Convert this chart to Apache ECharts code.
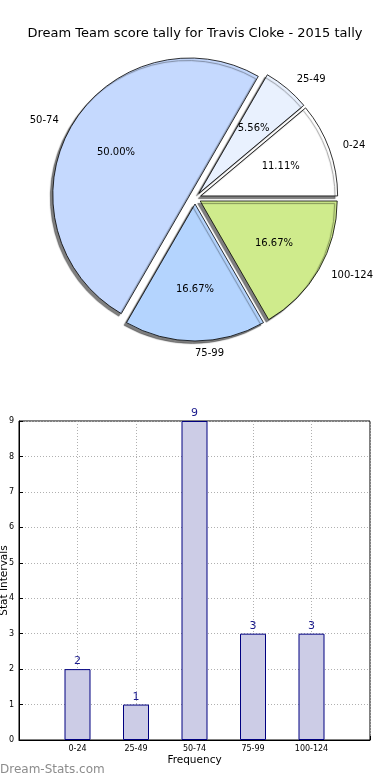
<!DOCTYPE html>
<html><head><meta charset="utf-8">
<script src="https://cdn.jsdelivr.net/npm/echarts@6/dist/echarts.min.js"></script>
<style>html,body{margin:0;padding:0;background:#fff}#c{width:390px;height:780px}</style>
</head><body><div id="c"></div>
<script>
const chartTitle = 'Dream Team score tally for Travis Cloke - 2015 tally';
const categories = ['0-24', '25-49', '50-74', '75-99', '100-124'];
const counts = [2, 1, 9, 3, 3];
const sliceColors = ['#ffffff', '#e9f1fe', '#c5d9fe', '#b4d4fe', '#cfeb8c'];
const xAxisName = 'Frequency';
const yAxisName = 'Stat Intervals';
const watermark = 'Dream-Stats.com';

const FONT = 'DejaVu Sans';
const PIE_CENTER = [195, 198];
const PIE_R = 137;
const OFFSET = 6;
const total = counts.reduce((a, b) => a + b, 0);

const chart = echarts.init(document.getElementById('c'), null, {renderer: 'canvas'});

const pieData = categories.map((c, i) => ({
  name: c, value: counts[i], selected: true,
  itemStyle: {color: sliceColors[i]}
}));
const pctData = categories.map((c, i) => ({
  name: c, value: counts[i], selected: true
}));

chart.setOption({
  animation: false,
  textStyle: {fontFamily: FONT},
  title: [
    {text: chartTitle, left: 'center', top: 22,
     textStyle: {fontSize: 13, fontWeight: 'normal', color: '#000', fontFamily: FONT}},
    {text: watermark, left: 0, top: 764, padding: 0,
     textStyle: {fontSize: 12, fontWeight: 'normal', color: '#8c8c8c', fontFamily: FONT}}
  ],
  grid: {left: 19, right: 20, top: 421, bottom: 40, show: true, outerBoundsMode: 'none', containLabel: false,
         borderColor: '#000', borderWidth: 1, backgroundColor: 'transparent'},
  xAxis: {
    type: 'value', min: -1, max: 5, interval: 1,
    name: xAxisName, nameLocation: 'middle', nameGap: 15, nameMoveOverlap: false,
    nameTextStyle: {fontSize: 10.5, color: '#000', fontFamily: FONT},
    axisLine: {show: true, onZero: false, lineStyle: {color: '#000'}},
    axisTick: {show: true, inside: true, length: 4, lineStyle: {color: '#000'}},
    axisLabel: {formatter: v => categories[v] || '', fontSize: 8, color: '#000', margin: 5, fontFamily: FONT},
    splitLine: {show: true, lineStyle: {type: [1, 2], color: '#b0b0b0'}}
  },
  yAxis: {
    type: 'value', min: 0, max: 9, interval: 1,
    name: yAxisName, nameLocation: 'middle', nameGap: 9, nameRotate: 90, nameMoveOverlap: false,
    nameTextStyle: {fontSize: 10.5, color: '#000', fontFamily: FONT},
    axisLine: {show: true, onZero: false, lineStyle: {color: '#000'}},
    axisTick: {show: true, inside: true, length: 4, lineStyle: {color: '#000'}},
    axisLabel: {fontSize: 8, color: '#000', margin: 5, fontFamily: FONT},
    splitLine: {show: true, lineStyle: {type: [1, 2], color: '#b0b0b0'}}
  },
  series: [
    {
      type: 'pie', center: PIE_CENTER, radius: PIE_R, startAngle: 0, clockwise: false,
      selectedMode: 'multiple', selectedOffset: OFFSET, avoidLabelOverlap: false,
      data: pieData,
      itemStyle: {borderColor: '#000', borderWidth: 0.8,
                  shadowColor: 'rgba(0,0,0,0.5)', shadowOffsetX: -2.5, shadowOffsetY: 2.5, shadowBlur: 1},
      select: {itemStyle: {borderColor: '#000', borderWidth: 0.8}},
      emphasis: {disabled: true},
      label: {show: true, position: 'outside', formatter: '{b}', fontSize: 10, color: '#000',
              fontFamily: FONT, distanceToLabelLine: 2},
      labelLine: {show: false, length: 12, length2: 0},
      labelLayout: p => (p.dataIndex === 3 ? {align: 'left', dx: 2} : {})
    },
    {
      type: 'pie', center: PIE_CENTER, radius: PIE_R * 1.2, startAngle: 0, clockwise: false,
      selectedMode: 'multiple', selectedOffset: OFFSET, avoidLabelOverlap: false, silent: true,
      data: pctData,
      itemStyle: {color: 'rgba(0,0,0,0)', borderWidth: 0},
      select: {itemStyle: {color: 'rgba(0,0,0,0)', borderWidth: 0}},
      emphasis: {disabled: true},
      label: {show: true, position: 'inside', formatter: p => (p.value / total * 100).toFixed(2) + '%',
              fontSize: 10, color: '#000', fontFamily: FONT},
      labelLine: {show: false}
    },
    {
      type: 'bar', data: counts.map((v, i) => [i, v]), barWidth: 26,
      itemStyle: {color: '#cccce6', borderColor: '#000080', borderWidth: 1},
      label: {show: true, position: 'top', color: '#1a1a8c', fontSize: 11, distance: 2, fontFamily: FONT},
      emphasis: {disabled: true}
    }
  ]
});
</script></body></html>
